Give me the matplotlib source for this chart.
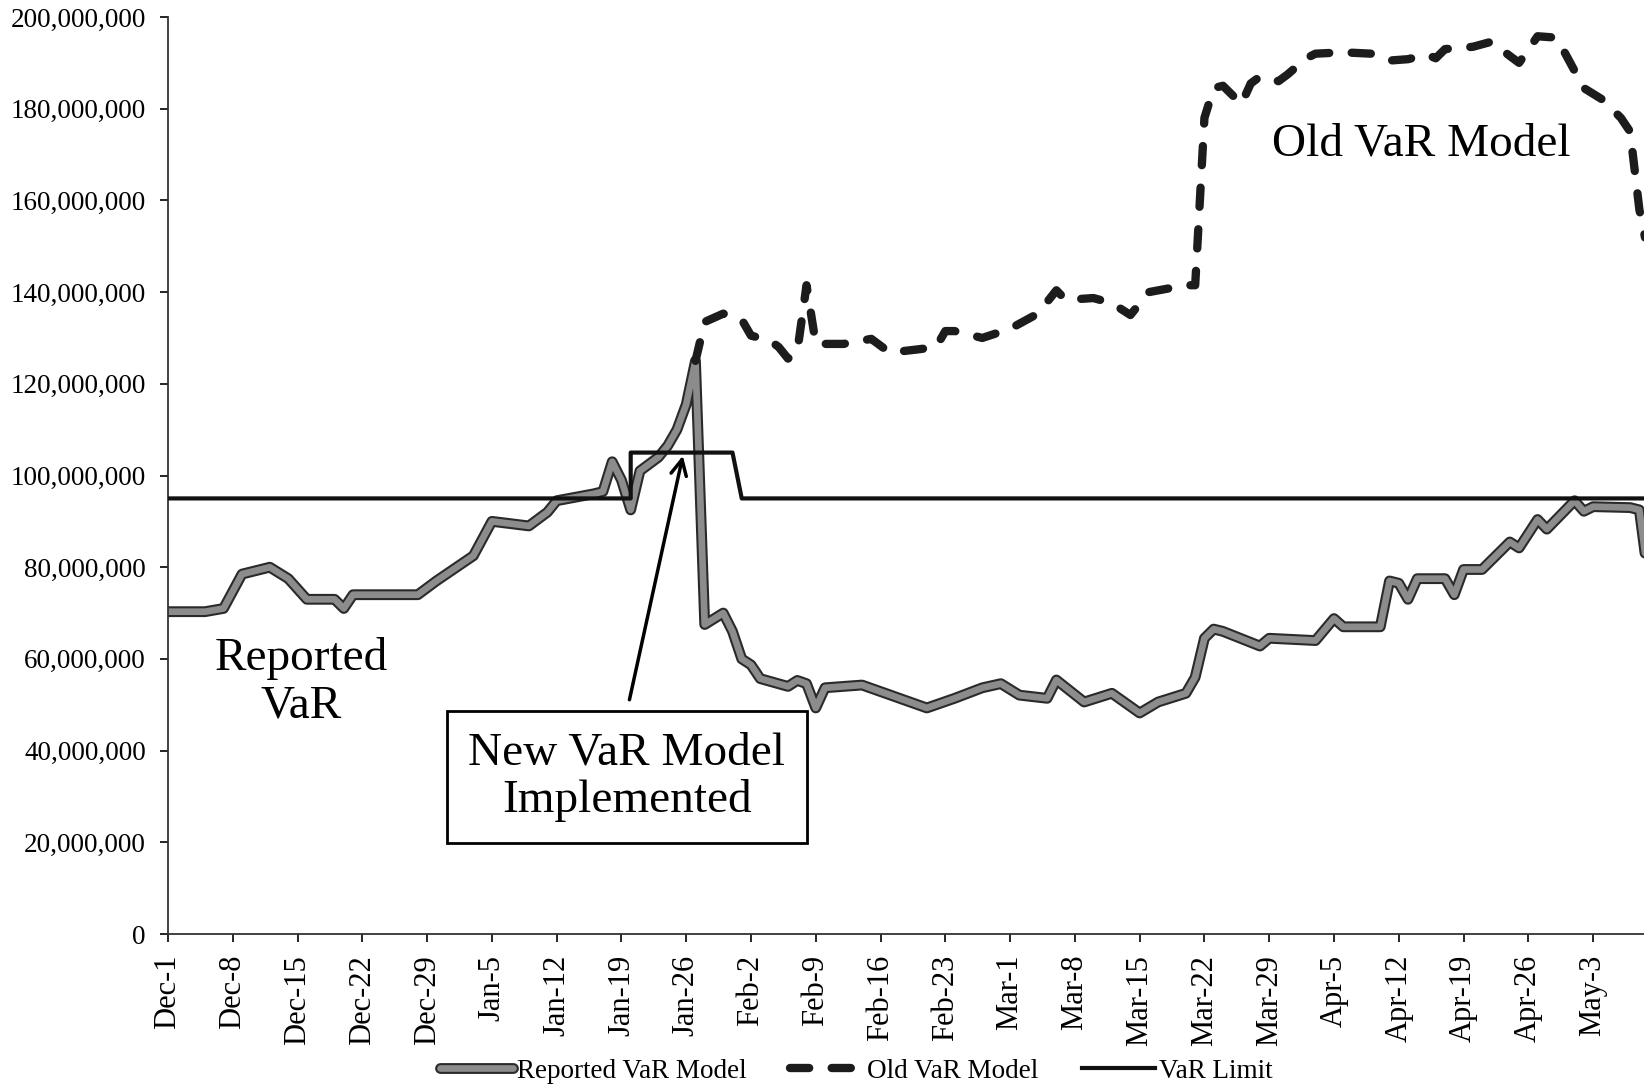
import numpy as np
import matplotlib
matplotlib.use('Agg')
import matplotlib.pyplot as plt
import matplotlib.dates as mdates
import matplotlib.patheffects as pe
import pandas as pd

# data (values in $ millions)
reported_dates = ['2011-12-01', '2011-12-05', '2011-12-07', '2011-12-09', '2011-12-12', '2011-12-14',
                  '2011-12-16', '2011-12-19', '2011-12-20', '2011-12-21', '2011-12-28', '2011-12-30',
                  '2012-01-03', '2012-01-05', '2012-01-09', '2012-01-11', '2012-01-12', '2012-01-16',
                  '2012-01-17', '2012-01-18', '2012-01-19', '2012-01-20', '2012-01-21', '2012-01-23',
                  '2012-01-24', '2012-01-25', '2012-01-26', '2012-01-27', '2012-01-28', '2012-01-30',
                  '2012-01-31', '2012-02-01', '2012-02-02', '2012-02-03', '2012-02-06', '2012-02-07',
                  '2012-02-08', '2012-02-09', '2012-02-10', '2012-02-14', '2012-02-21', '2012-02-24',
                  '2012-02-27', '2012-02-29', '2012-03-02', '2012-03-05', '2012-03-06', '2012-03-09',
                  '2012-03-12', '2012-03-15', '2012-03-17', '2012-03-20', '2012-03-21', '2012-03-22',
                  '2012-03-23', '2012-03-24', '2012-03-28', '2012-03-29', '2012-04-03', '2012-04-05',
                  '2012-04-06', '2012-04-10', '2012-04-11', '2012-04-12', '2012-04-13', '2012-04-14',
                  '2012-04-17', '2012-04-18', '2012-04-19', '2012-04-21', '2012-04-24', '2012-04-25',
                  '2012-04-27', '2012-04-28', '2012-05-01', '2012-05-02', '2012-05-03', '2012-05-07',
                  '2012-05-08', '2012-05-09']
reported_var = [70.3, 70.3, 71.0, 78.5, 80.0, 77.5,
                73.0, 73.0, 71.0, 74.0, 74.0, 77.0,
                82.5, 90.0, 89.0, 92.0, 94.5, 96.0,
                96.5, 103.0, 99.0, 92.5, 101.0, 104.0,
                106.5, 110.0, 115.5, 125.0, 67.5, 70.0,
                66.0, 60.0, 58.7, 55.7, 54.0, 55.3,
                54.6, 49.3, 53.7, 54.3, 49.3, 51.4,
                53.7, 54.6, 52.1, 51.4, 55.4, 50.6,
                52.5, 48.2, 50.6, 52.5, 56.0, 64.5,
                66.5, 66.0, 62.8, 64.5, 64.0, 68.8,
                67.0, 67.0, 77.0, 76.5, 73.0, 77.5,
                77.5, 74.0, 79.5, 79.5, 85.5, 84.2,
                90.4, 88.3, 94.5, 92.2, 93.2, 93.0,
                92.5, 77.0]

old_dates = ['2012-01-27', '2012-01-28', '2012-01-30', '2012-02-01', '2012-02-02', '2012-02-04',
             '2012-02-05', '2012-02-06', '2012-02-07', '2012-02-08', '2012-02-09', '2012-02-12',
             '2012-02-15', '2012-02-17', '2012-02-20', '2012-02-22', '2012-02-23', '2012-02-24',
             '2012-02-27', '2012-03-01', '2012-03-04', '2012-03-06', '2012-03-07', '2012-03-10',
             '2012-03-12', '2012-03-14', '2012-03-16', '2012-03-20', '2012-03-21', '2012-03-22',
             '2012-03-23', '2012-03-24', '2012-03-26', '2012-03-27', '2012-03-28', '2012-03-30',
             '2012-03-31', '2012-04-02', '2012-04-03', '2012-04-06', '2012-04-09', '2012-04-11',
             '2012-04-13', '2012-04-15', '2012-04-16', '2012-04-17', '2012-04-20', '2012-04-22',
             '2012-04-24', '2012-04-25', '2012-04-27', '2012-04-29', '2012-04-30', '2012-05-02',
             '2012-05-04', '2012-05-06', '2012-05-07', '2012-05-08', '2012-05-09']
old_var = [125.0, 133.5, 135.3, 134.0, 130.5, 129.5,
           128.0, 125.5, 127.0, 141.5, 128.7, 128.7,
           129.8, 126.8, 127.5, 128.0, 131.5, 131.5,
           130.0, 132.0, 135.3, 140.4, 138.3, 138.7,
           137.6, 135.0, 140.0, 141.5, 141.5, 178.0,
           184.5, 185.0, 181.0, 185.5, 187.0, 186.0,
           187.5, 191.0, 192.0, 192.3, 192.0, 190.5,
           190.8, 191.8, 191.0, 193.0, 193.5, 194.6,
           191.5, 190.0, 195.8, 195.5, 192.0, 184.5,
           182.0, 178.0, 175.0, 158.0, 148.0]

limit_dates = ['2011-12-01', '2012-01-20', '2012-01-20', '2012-01-31', '2012-02-01', '2012-05-09']
var_limit = [95, 95, 105, 105, 95, 95]

tick_dates = pd.date_range('2011-12-01', '2012-05-03', freq='7D')
tick_labels = [d.strftime('%b') + '-' + str(d.day) for d in tick_dates]

start = pd.Timestamp('2011-12-01')
def day(n):
    return mdates.date2num(start + pd.Timedelta(days=n))

# figure setup
plt.rcParams.update({'font.family': 'Liberation Serif', 'font.size': 19.5})
fig = plt.figure(figsize=[16.44, 10.86], dpi=100)
ax = fig.add_axes([168/1644, 1-934/1086, 1-168/1644, (934-17)/1086])

# plots
ax.plot(pd.to_datetime(reported_dates), np.array(reported_var)*1e6, color='#8c8c8c', linewidth=4.8,
        solid_joinstyle='round', solid_capstyle='round', label='Reported VaR Model',
        path_effects=[pe.Stroke(linewidth=7.8, foreground='#2a2a2a'), pe.Normal()], zorder=2)
ax.plot(pd.to_datetime(old_dates), np.array(old_var)*1e6, color='#1c1c1c', linewidth=6,
        linestyle=(0, (2.3, 2.7)), dash_capstyle='round', dash_joinstyle='round',
        label='Old VaR Model', zorder=3)
ax.plot(pd.to_datetime(limit_dates), np.array(var_limit)*1e6, color='#111111', linewidth=3,
        label='VaR Limit', zorder=4)

# axes formatting
ax.set_xlim(day(0), day(159.5))
ax.set_ylim(0, 200e6)
ax.set_yticks(np.arange(0, 200e6 + 1, 20e6))
ax.yaxis.set_major_formatter(plt.FuncFormatter(lambda v, p: f"{int(v):,}"))
ax.set_xticks(tick_dates)
ax.set_xticklabels(tick_labels, rotation=90, fontsize=22)
ax.tick_params(axis='y', direction='out', length=6, width=1.2, pad=10, labelsize=19.5)
ax.tick_params(axis='x', direction='out', length=6, width=1.2, pad=9)
for s in ['top', 'right']:
    ax.spines[s].set_visible(False)
for s in ['left', 'bottom']:
    ax.spines[s].set_linewidth(1.3)
    ax.spines[s].set_color('#333333')

# annotations
ax.text(day(135.4), 172.3e6, 'Old VaR Model', fontsize=34, ha='center', va='center')
ax.text(day(14.4), 55e6, 'Reported\nVaR', fontsize=34, ha='center', va='center', linespacing=1.15)
ax.text(day(49.6), 34.2e6, 'New VaR Model\nImplemented', fontsize=34, ha='center', va='center',
        linespacing=1.12, zorder=6,
        bbox=dict(boxstyle='square,pad=0.45', fc='white', ec='black', lw=2))
ax.annotate('', xy=(day(55.7), 104.9e6), xytext=(day(49.8), 50.5e6),
            arrowprops=dict(arrowstyle='->', lw=2.5, color='black', mutation_scale=28), zorder=5)

ax.legend(loc='center', bbox_to_anchor=(856/1644, 1-1071/1086), bbox_transform=fig.transFigure,
          ncol=3, frameon=False, fontsize=19.5, handlelength=2.7, handletextpad=0.15,
          columnspacing=1.6)

fig.savefig('out.png', dpi=100)
